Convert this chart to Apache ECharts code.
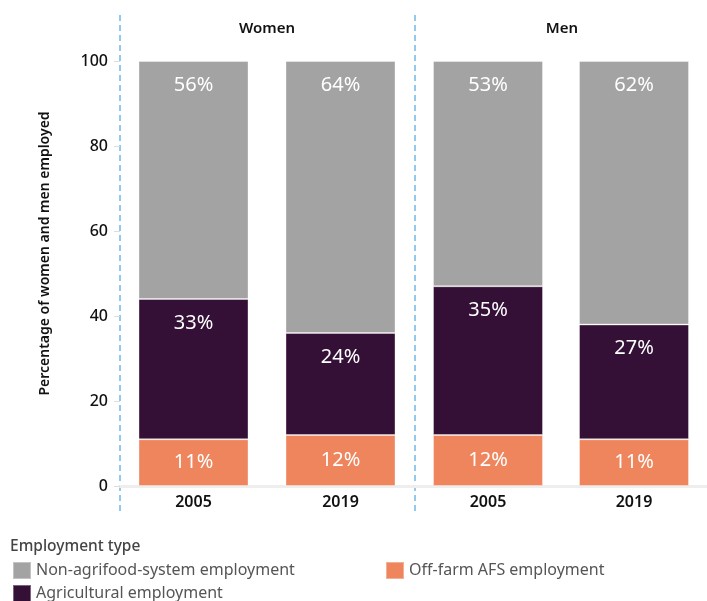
<!DOCTYPE html>
<html>
<head>
<meta charset="utf-8">
<script src="https://cdn.jsdelivr.net/npm/echarts@6/dist/echarts.min.js"></script>
<style>
  html, body { margin: 0; padding: 0; background: #fff; }
  #chart { width: 707px; height: 601px; }
</style>
</head>
<body>
<div id="chart"></div>
<script>
// Share of employed women and men by employment type, 2005 vs 2019 (%)
const years = ['2005', '2019'];
const panels = ['Women', 'Men'];
const seriesNames = ['Off-farm AFS employment', 'Agricultural employment', 'Non-agrifood-system employment'];

const womenOffFarm = [11, 12];
const womenAgri = [33, 24];
const womenNonAgri = [56, 64];

const menOffFarm = [12, 11];
const menAgri = [35, 27];
const menNonAgri = [53, 62];

const yTicks = { min: 0, max: 100, interval: 20 };

const colors = {
  'Off-farm AFS employment': '#ee855d',
  'Agricultural employment': '#341037',
  'Non-agrifood-system employment': '#a3a3a3'
};

const FONT = 'Noto Sans';

function segment(name, data, gridIdx, stack) {
  const top = name !== 'Off-farm AFS employment';
  return {
    name: name,
    type: 'bar',
    stack: stack,
    xAxisIndex: gridIdx,
    yAxisIndex: gridIdx,
    barWidth: 110,
    data: data,
    itemStyle: { color: colors[name], borderColor: 'rgba(255,255,255,0.35)', borderWidth: 1 },
    label: {
      show: true,
      position: top ? 'insideTop' : 'inside',
      distance: 14,
      color: '#ffffff',
      fontFamily: FONT,
      fontSize: 20,
      formatter: p => p.value + '%'
    },
    emphasis: { disabled: true }
  };
}

const grids = [
  { left: 120, width: 294, top: 61, bottom: 115 },
  { left: 415, width: 294, top: 61, bottom: 115 }
];

function xAxisFor(i) {
  return {
    type: 'category',
    gridIndex: i,
    data: years,
    axisLine: { lineStyle: { color: '#eeeeee', width: 3 } },
    axisTick: { show: false },
    axisLabel: { color: '#111', fontFamily: FONT, fontSize: 16, fontWeight: 600, margin: 8 }
  };
}

function yAxisFor(i) {
  const first = i === 0;
  return {
    type: 'value',
    gridIndex: i,
    min: yTicks.min,
    max: yTicks.max,
    interval: yTicks.interval,
    splitLine: { show: false },
    axisLine: { show: false },
    axisTick: { show: first, length: 6, lineStyle: { color: '#dddddd' } },
    axisLabel: { show: first, color: '#111', fontFamily: FONT, fontSize: 16, fontWeight: 500, margin: 12 },
    name: first ? 'Percentage of women and men employed' : '',
    nameLocation: 'middle',
    nameGap: 68,
    nameTextStyle: { color: '#111', fontFamily: FONT, fontSize: 14, fontWeight: 600, padding: [0, 0, 0, 40] }
  };
}

function legendItem(name, left, top) {
  return {
    data: [name],
    left: left,
    top: top,
    padding: 0,
    itemWidth: 18,
    itemHeight: 17,
    itemGap: 8,
    icon: 'rect',
    selectedMode: false,
    textStyle: { color: '#555', fontFamily: FONT, fontSize: 16, lineHeight: 18 }
  };
}

const chart = echarts.init(document.getElementById('chart'), null, { renderer: 'canvas' });

chart.setOption({
  animation: false,
  backgroundColor: '#ffffff',
  grid: grids,
  xAxis: [xAxisFor(0), xAxisFor(1)],
  yAxis: [yAxisFor(0), yAxisFor(1)],
  title: {
    text: 'Employment type',
    left: 10,
    top: 539,
    padding: 0,
    textStyle: { color: '#444', fontFamily: FONT, fontSize: 15.5, fontWeight: 500 }
  },
  legend: [
    legendItem(seriesNames[2], 12, 561),
    legendItem(seriesNames[1], 12, 584),
    legendItem(seriesNames[0], 385, 561)
  ],
  series: [
    segment(seriesNames[0], womenOffFarm, 0, 'women'),
    segment(seriesNames[1], womenAgri, 0, 'women'),
    segment(seriesNames[2], womenNonAgri, 0, 'women'),
    segment(seriesNames[0], menOffFarm, 1, 'men'),
    segment(seriesNames[1], menAgri, 1, 'men'),
    segment(seriesNames[2], menNonAgri, 1, 'men')
  ]
});

// Panel headings and dashed panel dividers, placed from the grid geometry
const dividers = grids.map(g => ({
  type: 'line',
  shape: { x1: g.left, y1: 15, x2: g.left, y2: 512 },
  style: { stroke: '#92c9ec', lineWidth: 2, lineDash: [6, 4] },
  silent: true
}));
const headings = grids.map((g, i) => ({
  type: 'text',
  x: g.left + g.width / 2,
  y: 29,
  style: {
    text: panels[i],
    fill: '#111',
    font: '600 15px "' + FONT + '"',
    textAlign: 'center',
    textVerticalAlign: 'middle'
  },
  silent: true
}));
chart.setOption({ graphic: dividers.concat(headings) });
</script>
</body>
</html>
